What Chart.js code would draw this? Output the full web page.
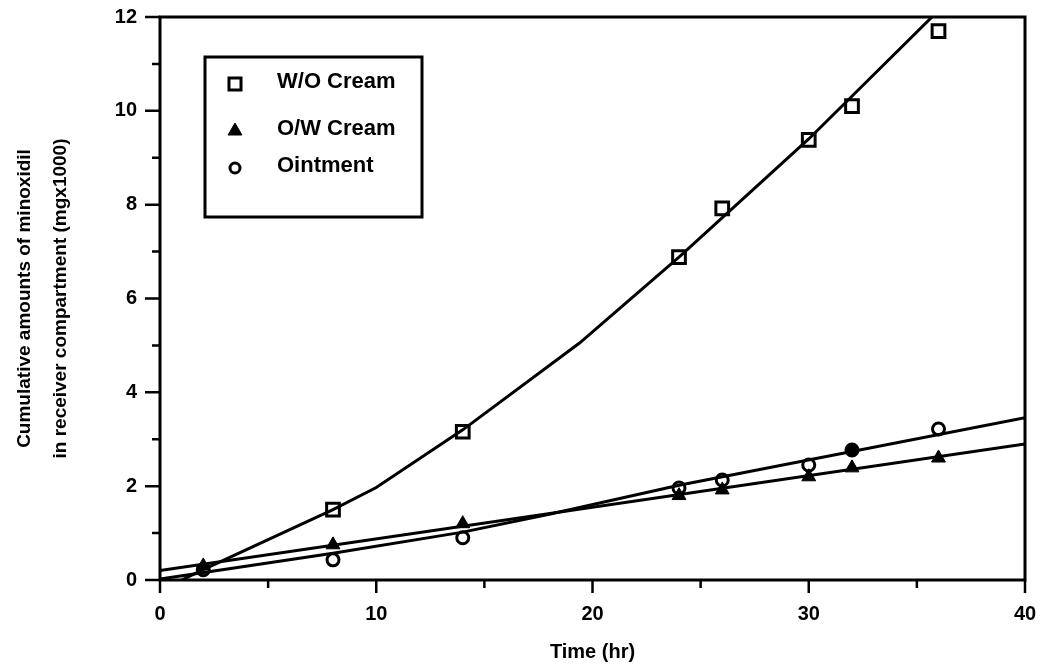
<!DOCTYPE html>
<html>
<head>
<meta charset="utf-8">
<script src="https://cdn.jsdelivr.net/npm/chart.js@4/dist/chart.umd.min.js"></script>
<style>
  html, body { margin: 0; padding: 0; background: #fff; }
  #wrap { width: 1044px; height: 664px; position: relative; }
</style>
</head>
<body>
<div id="wrap"><canvas id="c" width="1044" height="664"></canvas></div>
<script>
// ---- data ----
const timeHours = [2, 8, 14, 24, 26, 30, 32, 36];
const woCream   = [null, 1.5, 3.16, 6.88, 7.92, 9.38, 10.1, 11.7];
const owCream   = [0.3, 0.75, 1.2, 1.8, 1.92, 2.2, 2.39, 2.6];
const ointment  = [0.22, 0.43, 0.9, 1.96, 2.13, 2.45, 2.77, 3.22];

// fitted curves drawn in the figure
const woFitX   = [1, 2, 8, 10, 14, 19.4, 24, 30, 35.7, 36.5];
const woFitY   = [0, 0.22, 1.5, 1.97, 3.2, 5.05, 6.88, 9.4, 12, 12.35];
const owFitX   = [0, 40];
const owFitY   = [0.2, 2.9];
const ointFitX = [0, 8, 14, 18, 24, 40];
const ointFitY = [0.02, 0.57, 1.02, 1.4, 2.02, 3.46];

const xTicks = [0, 10, 20, 30, 40];
const yTicks = [0, 2, 4, 6, 8, 10, 12];

const seriesLabels = ['W/O Cream', 'O/W Cream', 'Ointment'];

const FONT = "'Liberation Sans', Arial, Helvetica, sans-serif";

function pts(xs, ys) {
  const out = [];
  xs.forEach((x, i) => { if (ys[i] !== null) out.push({ x: x, y: ys[i] }); });
  return out;
}

const fitStyle = { type: 'line', showLine: true, borderColor: '#000', borderWidth: 3,
  pointRadius: 0, tension: 0, fill: false };

const ointFill = timeHours.map(t => t === 32 ? '#000' : '#fff');

function zeroPad(s) { s.paddingTop = 0; s.paddingBottom = 0; s.paddingLeft = 0; s.paddingRight = 0; }

// ---- plugin: frame, tick marks, legend box ----
const framePlugin = {
  id: 'frame',
  afterDatasetsDraw(chart) {
    const { ctx, chartArea: a, scales } = chart;
    ctx.save();
    ctx.strokeStyle = '#000';
    ctx.lineWidth = 3;
    ctx.strokeRect(a.left, a.top, a.right - a.left, a.bottom - a.top);
    ctx.lineWidth = 2.5;
    ctx.beginPath();
    for (let v = 0; v <= 12; v += 1) {
      const py = scales.y.getPixelForValue(v);
      const len = (v % 2 === 0) ? 15 : 8;
      ctx.moveTo(a.left - len, py); ctx.lineTo(a.left, py);
    }
    for (let v = 0; v <= 40; v += 5) {
      const px = scales.x.getPixelForValue(v);
      const len = (v % 10 === 0) ? 13 : 8;
      ctx.moveTo(px, a.bottom); ctx.lineTo(px, a.bottom + len);
    }
    ctx.stroke();

    // legend box
    const bx = 205, by = 57, bw = 217, bh = 160;
    ctx.fillStyle = '#fff';
    ctx.fillRect(bx, by, bw, bh);
    ctx.lineWidth = 3;
    ctx.strokeRect(bx, by, bw, bh);
    const items = chart.data.datasets.filter(d => d.legendRow !== undefined);
    const rowY = [84, 131, 168];
    items.forEach(d => {
      const y = rowY[d.legendRow];
      ctx.fillStyle = d.legendFill;
      ctx.strokeStyle = '#000';
      ctx.lineWidth = d.pointBorderWidth;
      Chart.helpers.drawPoint(ctx, { pointStyle: d.pointStyle, radius: d.legendRadius, borderWidth: d.pointBorderWidth, rotation: 0 }, 235, y);
      ctx.fillStyle = '#000';
      ctx.font = 'bold 22px ' + FONT;
      ctx.textAlign = 'left';
      ctx.textBaseline = 'middle';
      ctx.fillText(d.label, 277, y - 2);
    });
    ctx.restore();
  }
};

new Chart(document.getElementById('c'), {
  type: 'scatter',
  data: {
    datasets: [
      Object.assign({ label: 'W/O fit', data: pts(woFitX, woFitY) }, fitStyle),
      Object.assign({ label: 'O/W fit', data: pts(owFitX, owFitY) }, fitStyle),
      Object.assign({ label: 'Ointment fit', data: pts(ointFitX, ointFitY) }, fitStyle),
      { label: seriesLabels[1], data: pts(timeHours, owCream), pointStyle: 'triangle',
        pointRadius: 8, pointBackgroundColor: '#000', pointBorderColor: '#000', pointBorderWidth: 1,
        legendRow: 1, legendFill: '#000', legendRadius: 8 },
      { label: seriesLabels[2], data: pts(timeHours, ointment), pointStyle: 'circle',
        pointRadius: 6, pointBackgroundColor: ointFill, pointBorderColor: '#000', pointBorderWidth: 3,
        legendRow: 2, legendFill: '#fff', legendRadius: 5 },
      { label: seriesLabels[0], data: pts(timeHours, woCream), pointStyle: 'rect',
        pointRadius: 9, pointBackgroundColor: '#fff', pointBorderColor: '#000', pointBorderWidth: 3,
        legendRow: 0, legendFill: '#fff', legendRadius: 8.5 }
    ]
  },
  options: {
    responsive: false,
    animation: false,
    devicePixelRatio: 1,
    layout: { padding: { left: 0, right: 19, top: 17, bottom: 0 } },
    plugins: { legend: { display: false }, tooltip: { enabled: false } },
    scales: {
      x: {
        type: 'linear', min: 0, max: 40,
        afterFit: s => { s.height = 84; zeroPad(s); },
        grid: { display: false, drawTicks: false },
        border: { display: false },
        afterBuildTicks: s => { s.ticks = xTicks.map(v => ({ value: v })); },
        ticks: { color: '#000', padding: 22, autoSkip: false, maxRotation: 0,
          font: { family: FONT, size: 20, weight: 'bold' } },
        title: { display: true, text: 'Time (hr)', color: '#000',
          padding: { top: 0, bottom: 0 },
          font: { family: FONT, size: 20, weight: 'bold' } }
      },
      y: {
        type: 'linear', min: 0, max: 12,
        afterFit: s => { s.width = 160; zeroPad(s); },
        grid: { display: false, drawTicks: false },
        border: { display: false },
        afterBuildTicks: s => { s.ticks = yTicks.map(v => ({ value: v })); },
        ticks: { color: '#000', padding: 23, autoSkip: false,
          font: { family: FONT, size: 20, weight: 'bold' } },
        title: { display: true,
          text: ['Cumulative amounts of minoxidil', 'in receiver compartment (mgx1000)'],
          color: '#000', padding: { top: 7, bottom: 0 },
          font: { family: FONT, size: 19, weight: 'bold', lineHeight: 1.9 } }
      }
    }
  },
  plugins: [framePlugin]
});
</script>
</body>
</html>
